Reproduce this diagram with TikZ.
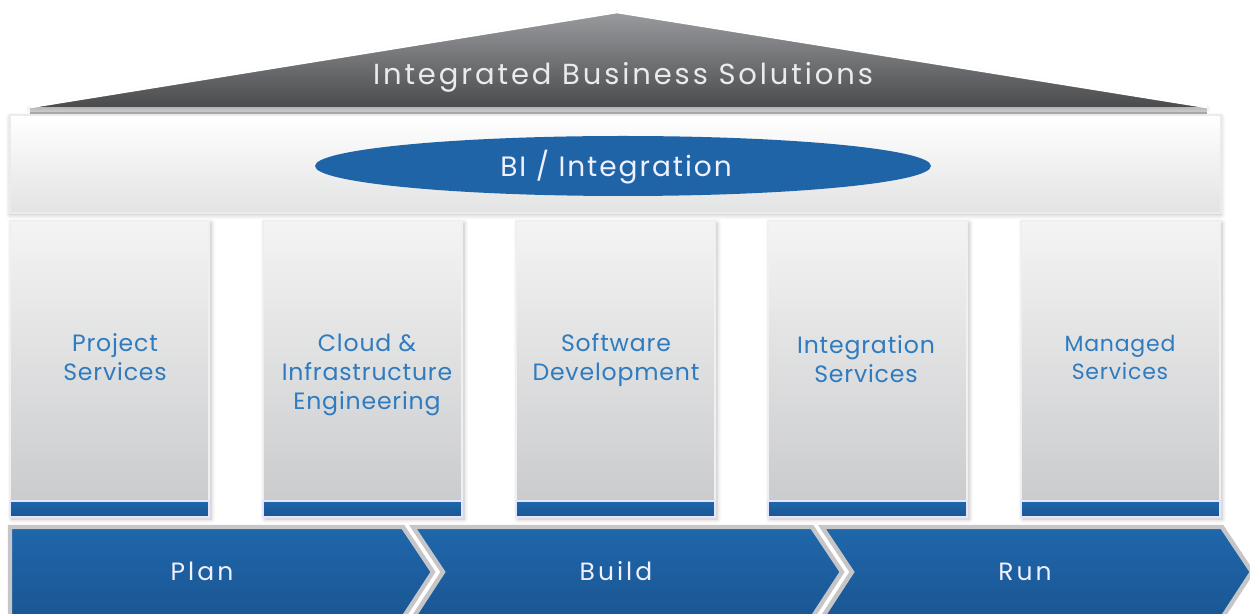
\documentclass[tikz,border=0pt]{standalone}
\usepackage{fontspec}
\setmainfont{Poppins}
\newfontfamily\rooffont[LetterSpace=10]{Poppins}
\newfontfamily\bifont[LetterSpace=7]{Poppins}
\newfontfamily\chevfont[LetterSpace=12]{Poppins}
\newfontfamily\pillfont[LetterSpace=3.5]{Poppins}
\usetikzlibrary{shadows.blur}
\definecolor{bluetop}{HTML}{1F67AB}
\definecolor{bluebot}{HTML}{1A5693}
\definecolor{textblue}{HTML}{2E7BBF}
\definecolor{rooftop}{HTML}{9A9B9E}
\definecolor{roofbot}{HTML}{4A4B4D}
\definecolor{pilltop}{HTML}{F4F4F4}
\definecolor{pillbot}{HTML}{C8C9CB}
\definecolor{chevline}{HTML}{C6C6C8}
\tikzset{
  roofshape/.style={top color=rooftop, bottom color=roofbot, draw=none},
  bandshape/.style={top color=white, bottom color=pilltop!60!pillbot, draw=white!92!black, line width=1.2,
    blur shadow={shadow blur steps=6, shadow xshift=0pt, shadow yshift=-1pt, shadow opacity=25}},
  pillshape/.style={top color=pilltop, bottom color=pillbot, draw=white!94!black, line width=1.2,
    blur shadow={shadow blur steps=6, shadow xshift=1pt, shadow yshift=-1pt, shadow opacity=25}},
  footshape/.style={top color=bluetop, bottom color=bluebot, draw=white!90!blue, line width=1},
  chevshape/.style={top color=bluetop, bottom color=bluebot, draw=chevline, line width=2.2, line join=miter},
  pilltext/.style={text=textblue, align=center, font=\pillfont\fontsize{11.8}{14.6}\selectfont},
  whitetext/.style={text=white!94!blue, anchor=base, inner sep=0pt, font=\chevfont\fontsize{12.5}{15}\selectfont},
}
\begin{document}
\begin{tikzpicture}[x=0.5pt,y=-0.5pt]
\useasboundingbox (0,0) rectangle (1250,614);
% roof
\fill[gray!35] (30,107) rectangle (1207,115);
\path[roofshape, blur shadow={shadow blur steps=6, shadow xshift=0pt, shadow yshift=-1pt, shadow opacity=20}]
  (30,107) -- (617,12) -- (1207,107) -- cycle;
\draw[white, line width=1.3] (30,107) -- (617,12) -- (1207,107);
\node[text=white!92!black, anchor=base, inner sep=0pt, font=\rooffont\fontsize{14.5}{17}\selectfont] (roof) at (623,85) {Integrated Business Solutions};
% BI band
\path[bandshape] (10,115) rectangle (1221,213);
\fill[bluetop!85!bluebot] (623,166) ellipse [x radius=308, y radius=30];
\node[whitetext, font=\bifont\fontsize{14}{16}\selectfont] (bi) at (616,177) {BI / Integration};
% pillars
\foreach \x/\nm in {10/p1,263/p2,516/p3,768/p4,1021/p5}{
  \path[pillshape] (\x,221) rectangle (\x+199,517);
  \path[footshape] (\x,501) rectangle (\x+199,517);
}
\node[pilltext] (t1) at (115,357) {Project\\Services};
\node[pilltext] (t2) at (367,375) {Cloud \&\\Infrastructure\\Engineering};
\node[pilltext] (t3) at (616,360) {Software\\Development};
\node[pilltext] (t4) at (866,359) {Integration\\Services};
\node[pilltext, font=\pillfont\fontsize{11}{14}\selectfont] (t5) at (1120,357) {Managed\\Services};
% chevrons
\path[chevshape] (10,527) -- (403,527) -- (433,572) -- (403,618) -- (10,618) -- cycle;
\path[chevshape] (413,527) -- (812,527) -- (842,572) -- (812,618) -- (413,618) -- (443,572) -- cycle;
\path[chevshape] (822,527) -- (1222,527) -- (1252,572) -- (1222,618) -- (822,618) -- (852,572) -- cycle;
\node[whitetext] (plan) at (202,581) {Plan};
\node[whitetext] (build) at (616,581) {Build};
\node[whitetext] (run) at (1025,581) {Run};
\end{tikzpicture}
\end{document}
